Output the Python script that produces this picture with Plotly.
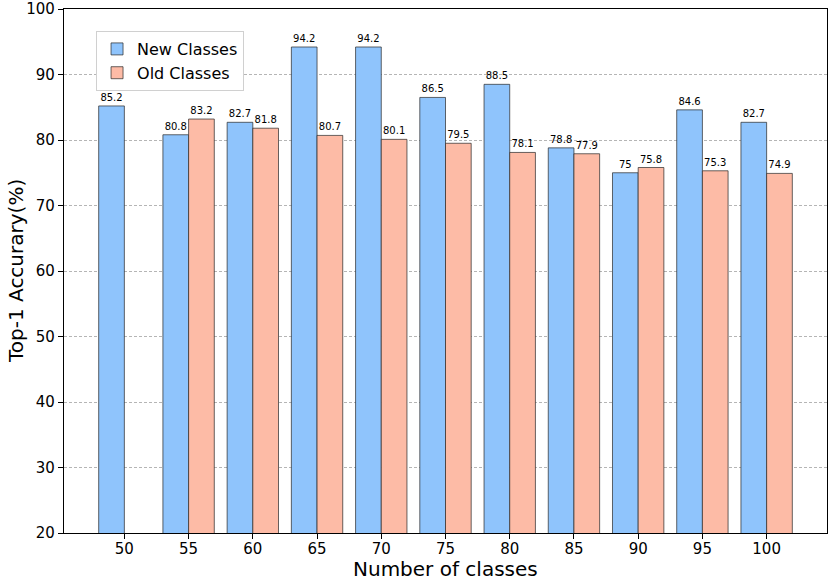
import plotly.graph_objects as go

classes = [50, 55, 60, 65, 70, 75, 80, 85, 90, 95, 100]
new_classes = [85.2, 80.8, 82.7, 94.2, 94.2, 86.5, 88.5, 78.8, 75, 84.6, 82.7]
old_classes = [None, 83.2, 81.8, 80.7, 80.1, 79.5, 78.1, 77.9, 75.8, 75.3, 74.9]
y_ticks = [20, 30, 40, 50, 60, 70, 80, 90, 100]

FONT = "DejaVu Sans"

def labels(vals):
    return ["" if v is None else f"{v:g}" for v in vals]

fig = go.Figure()
fig.add_trace(go.Bar(
    x=classes, y=new_classes, name="New Classes",
    marker=dict(color="#8fc4fc", line=dict(color="rgba(40,40,40,0.7)", width=1)),
    text=labels(new_classes), textposition="outside",
    textfont=dict(size=10, color="black", family=FONT), cliponaxis=False,
))
fig.add_trace(go.Bar(
    x=classes, y=old_classes, name="Old Classes",
    marker=dict(color="#fdbba6", line=dict(color="rgba(40,40,40,0.7)", width=1)),
    text=labels(old_classes), textposition="outside",
    textfont=dict(size=10, color="black", family=FONT), cliponaxis=False,
))

fig.update_layout(
    width=830, height=582,
    margin=dict(l=64, r=3, t=9, b=49, autoexpand=False),
    plot_bgcolor="white", paper_bgcolor="white",
    barmode="group", bargap=0.2, bargroupgap=0,
    font=dict(family=FONT, color="black"),
    legend=dict(
        x=0.042, y=0.958, xanchor="left", yanchor="top",
        bgcolor="white", bordercolor="#d0d0d0", borderwidth=1,
        font=dict(size=16, family=FONT), tracegroupgap=2,
    ),
    annotations=[
        dict(text="Number of classes", xref="paper", yref="paper", x=0.5, y=0,
             xanchor="center", yanchor="middle", yshift=-36, showarrow=False,
             font=dict(size=20, family=FONT)),
        dict(text="Top-1 Accurary(%)", xref="paper", yref="paper", x=0, y=0.5,
             xanchor="center", yanchor="middle", xshift=-48, textangle=-90, showarrow=False,
             font=dict(size=20, family=FONT)),
    ],
)
fig.update_xaxes(
    range=[45.3, 104.7], tickvals=classes, ticktext=[str(c) for c in classes],
    showline=True, linecolor="black", linewidth=1.2, mirror=True, automargin=False,
    ticks="outside", ticklen=5, tickcolor="black", showgrid=False, zeroline=False,
    tickfont=dict(size=15, family=FONT), ticklabelstandoff=-3,
)
fig.update_yaxes(
    range=[20, 100], tickvals=y_ticks, automargin=False,
    showline=True, linecolor="black", linewidth=1.2, mirror=True,
    ticks="outside", ticklen=5, tickcolor="black",
    showgrid=True, gridcolor="#b5b5b5", griddash="3px,2px", gridwidth=0.8, zeroline=False,
    tickfont=dict(size=15, family=FONT),
)

fig.write_html(
    "out.html",
    config={"displayModeBar": False},
    post_script="document.body.style.margin='0';document.body.style.overflow='hidden';",
)
